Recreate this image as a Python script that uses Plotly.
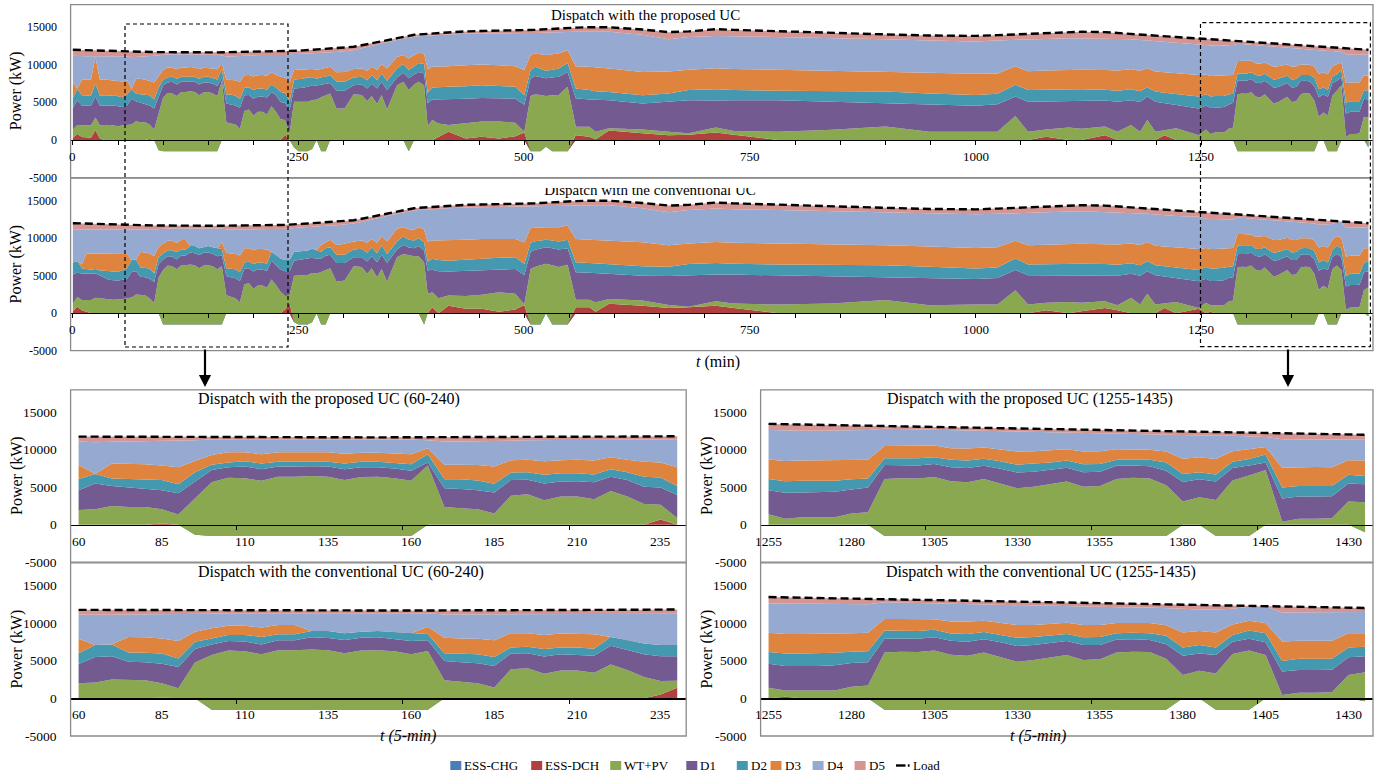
import plotly.graph_objects as go

# ---------------- time grid (minutes) ----------------
T = (list(range(0, 245, 5)) +
     [245, 250, 255, 260, 265, 270, 275, 280, 285,
      292, 301, 311, 320, 326, 331, 337, 342, 348,
      359, 366, 372, 378, 383, 389, 393, 398,
      405, 416, 435, 453, 472, 490, 500,
      507, 512, 518, 524, 531, 538, 548,
      557, 572, 579, 594, 631, 660, 682, 712, 732, 781, 841, 900, 949, 1000, 1024, 1044,
      1058, 1078, 1103, 1117, 1143, 1157, 1172, 1182, 1190, 1199, 1209, 1222, 1247] +
     list(range(1255, 1440, 5)))

# ---------------- load (kW) ----------------
load = [12000, 11980, 11950, 11930, 11900, 11880, 11850, 11830, 11810, 11800, 11780, 11770, 11750,
        11740, 11730, 11720, 11710, 11700, 11700, 11690, 11680, 11670, 11670, 11660, 11660, 11650, 11650, 11650, 11650,
        11650, 11650, 11660, 11660, 11670, 11670, 11680, 11680, 11690, 11700, 11700, 11710, 11720, 11730, 11740, 11750,
        11760, 11770, 11780, 11800,
        11850, 11880, 11920, 11960, 12000, 12050, 12090, 12120, 12150,
        12200, 12300, 12400, 12600, 12750, 12850, 13000, 13100, 13250,
        13600, 13750, 13900, 14000, 14050, 14100, 14150, 14200,
        14250, 14350, 14450, 14500, 14550, 14550, 14550,
        14600, 14650, 14700, 14750, 14800, 14850, 14900,
        14950, 15000, 15000, 15000, 14700, 14350, 14450, 14750, 14650, 14450, 14250, 14050, 13900, 13850, 13950, 14050,
        14150, 14300, 14400, 14400, 14350, 14250, 14150, 14050, 14000, 13900, 13800, 13700, 13500,
        13450, 13400, 13370, 13330, 13290, 13250, 13200, 13150, 13120, 13080, 13050, 13000, 12960, 12920, 12880, 12840,
        12800, 12760, 12720, 12680, 12640, 12600, 12560, 12520, 12480, 12440, 12400, 12360, 12320, 12280, 12240, 12200,
        12160, 12120, 12080, 12040, 12000]

# ================= Proposed UC =================
prop_chg = [0, 0, 0, 0, 0, 0, 0, 0, 0, 0, 0, 0, 0, 0, 0, 0, 0, 0, 0, -1350,
            -1500, -1500, -1500, -1500, -1500, -1500, -1500, -1500, -1500, -1500, -1500, -1500, -1500,
            0, 0, 0, 0, 0, 0, 0, 0, 0, 0, 0, 0, 0, 0, 0, 0,
            -1000, -1500, -1500, -1500, -1200, 0, -1500, -1500, 0,
            0, 0, 0, 0, 0, 0, 0, 0, 0,
            0, 0, -1500, 0, 0, 0, 0, 0,
            0, 0, 0, 0, 0, 0, 0,
            -1500, -1500, -1500, -900, -1500, -1500, -1500,
            0, 0, 0, 0, 0, 0, 0, 0, 0, 0, 0, 0, 0, 0, 0, 0, 0, 0, 0, 0, 0, 0, 0, 0, 0, 0, 0, 0, 0,
            0, 0, 0, 0, 0, 0, 0,
            -1500, -1500, -1500, -1500, -1500, -1500, -1500, -1500, -1500, -1500, -1500, -1500, -1500, -1500, -1500, -1500, -1500, -1500,
            0, 0, -1500, -1500, -1500, 0, 0, 0, 0, 0, 0, -1000]
prop_dch = [300, 800, 400, 300, 300, 1300, 200, 0, 0, 0, 0, 0, 0, 0, 0, 0, 0, 150,
            0, 0, 0, 0, 0, 0, 0, 0, 0, 0, 0, 0, 0, 0, 0, 0, 0, 0, 100,
            0, 0, 0, 0, 0, 0, 0, 0, 0, 0, 700, 0,
            0, 0, 0, 0, 0, 0, 0, 0, 0,
            0, 0, 0, 0, 0, 0, 0, 0, 0,
            0, 0, 0, 0, 0, 0, 0, 0,
            400, 1100, 200, 450, 200, 500, 1000,
            0, 0, 0, 0, 0, 0, 0,
            650, 450, 100, 1250, 900, 650, 700, 1000, 700, 0, 0, 0, 0, 0, 0, 0, 0, 450, 0, 0, 650, 0, 0, 0, 0, 0, 650, 0, 0,
            0, 0, 0, 0, 0, 0, 0, 0, 0, 0, 0, 0, 0, 0, 0, 0, 0, 0, 0, 0, 0, 0, 0, 0, 0, 0, 0, 0, 0, 0, 0, 0, 0, 0, 0, 0, 0]
prop_wtpv = [1100, 1200, 1550, 1650, 1650, 1700, 1750, 2000, 1900, 1950, 1800, 1950, 1950,
             2050, 2500, 2350, 2350, 1900, 1350, 4850, 7150, 7750, 7700, 7350, 7900, 7900, 8000, 7900, 7450, 7850, 7900,
             7700, 7350, 7900, 2350, 2200, 1950, 1500, 3850, 4050, 3250, 3750, 3750, 3400, 4500, 3750, 2750, 1950, 900,
             6100, 6600, 6600, 6600, 6500, 5400, 7200, 7400, 6200,
             4200, 4200, 6100, 6000, 5200, 5850, 4800, 6000, 4050,
             7300, 7750, 8150, 7400, 7750, 7300, 1850, 2650,
             1800, 900, 2000, 2000, 2250, 1800, 100,
             7350, 7600, 7500, 6750, 7450, 7500, 8600,
             1100, 1300, 1000, 300, 500, 450, 200, 650, 500, 1100, 1350, 1800, 1100, 1100, 1100, 3200, 1100, 950, 1650,
             1500, 1150, 1100, 2000, 1100, 2650, 1100, 650, 1550, 650,
             1400, 800, 1000, 1050, 1000, 1500, 1650,
             7600, 7700, 7650, 7850, 7300, 7150, 7600, 7000, 6350, 6550, 6900, 7250, 6550, 6650, 7600, 7750, 7650, 6750,
             3100, 3650, 4800, 7400, 8050, 7300, 400, 800, 800, 850, 3100, 4000]
prop_d1 = [2900, 3300, 2600, 2600, 2600, 2800, 2600, 2600, 2650, 2650, 2650, 2450, 2650,
           3450, 2650, 2600, 2450, 2550, 2850, 2200, 1650, 1400, 1550, 1550, 1350, 1350, 1300, 1350, 1450, 1300, 1250,
           1300, 1350, 400, 2500, 2550, 2550, 2800, 2100, 1950, 2250, 2000, 2050, 2250, 1900, 2200, 2300, 2300, 3050,
           1750, 1750, 1850, 2000, 2000, 1850, 1700, 1550, 1400,
           2350, 2350, 1200, 1400, 1650, 1650, 2050, 1750, 2600,
           1000, 1200, 1550, 1300, 1300, 1550, 3050, 2750,
           3200, 3450, 3300, 3150, 3100, 3200, 3600,
           2350, 2400, 2350, 2350, 2350, 2400, 1950,
           3800, 3650, 4250, 3750, 3450, 4000, 4400, 3600, 4100, 4200, 3750, 3100, 3600, 3450, 3650, 2600, 4000, 3750,
           3550, 3700, 3450, 4000, 3300, 3950, 3150, 4000, 3600, 3150, 3550,
           3200, 3450, 3300, 3300, 3400, 3200, 3300,
           1850, 1750, 1750, 1750, 1850, 1900, 1750, 1950, 2100, 2000, 1950, 1850, 1950, 1900, 1750, 1650, 1650, 1950,
           2600, 2400, 2450, 1650, 1350, 1000, 3100, 2950, 2950, 2950, 2400, 2400]
prop_d2 = [1300, 1500, 1400, 1350, 1350, 1700, 1350, 1350, 1350, 1350, 1350, 1300, 1500,
           1250, 1000, 1100, 1250, 1350, 1200, 1300, 700, 650, 700, 750, 650, 650, 700, 650, 750, 750, 750,
           750, 850, 1100, 1200, 1300, 1300, 1150, 1000, 1000, 1150, 1100, 1050, 1050, 1000, 1050, 1350, 1350, 1200,
           1200, 1200, 1200, 1200, 1050, 900, 950, 950, 1050,
           1200, 1200, 1000, 1000, 1100, 1150, 1100, 1100, 1250,
           1200, 1150, 1100, 1100, 1200, 1250, 1400, 1600,
           1650, 1650, 1650, 1700, 1650, 1600, 1300,
           1100, 1250, 1150, 1000, 1050, 1100, 1200,
           1300, 1250, 1150, 1100, 1100, 1100, 1350, 1500, 1350, 1250, 1400, 1550, 1500, 1450, 1400, 1550, 1550, 1550,
           1500, 1550, 1450, 1450, 1450, 1450, 1200, 1350, 1400, 1400, 1600,
           1500, 1550, 1550, 1500, 1450, 1350, 1200,
           900, 900, 950, 900, 1000, 1000, 950, 1000, 1050, 1100, 950, 950, 1050, 1050, 800, 750, 850, 1100,
           1050, 950, 950, 850, 850, 1050, 1450, 1400, 1400, 1350, 1150, 1100]
prop_d3 = [2100, 50, 2050, 2100, 2100, 3500, 2100, 2100, 2050, 2000, 2050, 2100, 1850,
           50, 2000, 2100, 2000, 1950, 2250, 1500, 1300, 1350, 1200, 1250, 1250, 1250, 1200, 1250, 1300, 1200, 1200,
           1250, 1350, 800, 1950, 1950, 2050, 2300, 1650, 1650, 1800, 1750, 1800, 1850, 1600, 1650, 2000, 2000, 2500,
           1250, 1250, 1200, 1100, 1100, 1200, 1100, 1150, 1100,
           1250, 1300, 1150, 1100, 1250, 1100, 1350, 1250, 1600,
           1550, 1200, 1550, 1500, 1350, 1400, 3100, 2750,
           2700, 2700, 2800, 2750, 2750, 2700, 3300,
           2000, 1750, 1900, 2100, 2050, 2000, 1700,
           2950, 3100, 3150, 3100, 3100, 2900, 2700, 2800, 2800, 2800, 2750, 2650, 2750, 2800, 2700, 2450, 2500, 2550,
           2600, 2600, 2600, 2700, 2650, 2700, 2550, 2650, 2700, 2750, 2850,
           2600, 2700, 2700, 2700, 2700, 2550, 2500,
           1650, 1650, 1650, 1550, 1550, 1600, 1500, 1550, 1750, 1650, 1650, 1500, 1700, 1700, 1400, 1400, 1350, 1450,
           2050, 2000, 2050, 1400, 1300, 1000, 2650, 2550, 2550, 2500, 1950, 2050]
prop_d4 = [3500, 4300, 3150, 3150, 3150, 200, 3150, 3100, 3200, 3200, 3250, 3300, 3150,
           4200, 2900, 2950, 3050, 3200, 3500, 2750, 2050, 1750, 1750, 2000, 1750, 1750, 1700, 1750, 1950, 1800, 1800,
           1900, 1950, 1050, 3100, 3100, 3150, 3350, 2600, 2600, 2850, 2700, 2650, 2750, 2300, 2650, 2900, 3000, 3750,
           2100, 2100, 2100, 2100, 2100, 2250, 2170, 2100, 1930,
           2720, 2750, 2500, 2700, 3150, 2750, 3350, 2700, 3500,
           2250, 2200, 2800, 2450, 2200, 2350, 4500, 4200,
           4250, 4250, 4200, 4150, 4300, 4450, 4950,
           2950, 2750, 2880, 3000, 2950, 2880, 2450,
           4600, 4650, 4750, 4900, 4950, 4300, 4350, 4300, 4350, 4350, 4300, 4300, 4300, 4300, 4400, 3500, 4200, 4200,
           4250, 4200, 4200, 4200, 4000, 4100, 3700, 4050, 4050, 4100, 4100,
           3950, 4050, 4000, 4000, 4000, 4000, 4000,
           2300, 2250, 2200, 2100, 2400, 2400, 2200, 2450, 2650, 2550, 2350, 2200, 2450, 2350, 2050, 2000, 2000, 2200,
           3100, 2900, 3100, 2050, 1750, 1350, 3800, 3650, 3650, 3700, 2750, 2850]
prop_d5 = [800, 830, 800, 780, 750, 680, 700, 680, 660, 650, 680, 670, 650,
           740, 680, 620, 610, 600, 550, 440, 330, 270, 270, 260, 260, 250, 250, 250, 250, 250, 250,
           260, 310, 420, 570, 580, 580, 590, 500, 450, 410, 420, 430, 440, 450, 460, 470, 480, 400,
           450, 480, 470, 460, 450, 450, 470, 470, 470,
           480, 500, 450, 400, 400, 350, 350, 300, 250,
           300, 250, 250, 250, 250, 250, 250, 250,
           250, 300, 300, 300, 300, 300, 300,
           350, 400, 420, 450, 450, 470, 500,
           550, 600, 600, 600, 700, 950, 750, 900, 850, 750, 700, 650, 650, 750, 700, 750, 800, 850,
           850, 850, 850, 800, 750, 750, 750, 750, 750, 750, 750,
           800, 850, 820, 780, 740, 650, 550,
           350, 370, 380, 400, 400, 410, 420, 430, 440, 450, 460, 470, 480, 490, 500, 510, 520, 530,
           540, 500, 510, 470, 480, 540, 800, 810, 770, 730, 690, 600]

# ================= Conventional UC =================
conv_chg = [0, 0, 0, 0, 0, 0, 0, 0, 0, 0, 0, 0, 0, 0, 0, 0, 0, 0, 0, 0,
            -1500, -1500, -1500, -1500, -1500, -1500, -1500, -1500, -1500, -1500, -1500, -1500, -1500, -1500,
            0, 0, 0, 0, 0, 0, 0, 0, 0, 0, 0, 0, 0, 0, 0,
            -1200, -1500, -1500, -1500, -1200, 0, -1500, -1500, 0,
            0, 0, 0, 0, 0, 0, 0, 0, 0,
            0, 0, 0, 0, 0, -1500, 0, 0,
            0, 0, 0, 0, 0, 0, 0,
            -1500, -1500, -1500, 0, -1500, -1500, -1500,
            0, 0, 0, 0, 0, 0, 0, 0, 0, 0, 0, 0, 0, 0, 0, 0, 0, 0, 0, 0, 0, 0, 0, 0, 0, 0, 0, 0, 0,
            0, 0, 0, 0, 0, 0, 0,
            -1500, -1500, -1500, -1500, -1500, -1500, -1500, -1500, -1500, -1500, -1500, -1500, -1500, -1500, -1500, -1500, -1500, -1500,
            0, 0, -1500, -1500, -1500, 0, 0, 0, 0, 0, 0, -400]
conv_dch = [300, 850, 400, 200, 0, 0, 0, 0, 0, 0, 0, 0, 0, 0, 0, 0, 0, 100,
            0, 0, 0, 0, 0, 0, 0, 0, 0, 0, 0, 0, 0, 0, 0, 0, 0, 0, 0, 0, 0, 0, 0, 0, 0, 0, 0, 0, 0, 500, 1400,
            0, 0, 0, 0, 0, 0, 0, 0, 0,
            0, 0, 0, 0, 0, 0, 0, 0, 0,
            0, 0, 0, 0, 0, 0, 0, 800,
            0, 1000, 600, 600, 200, 500, 1100,
            0, 0, 0, 0, 0, 0, 0,
            800, 800, 200, 1250, 1000, 700, 800, 1000, 700, 0, 0, 0, 0, 0, 0, 0, 0, 400, 0, 250, 700, 400, 0, 0, 0, 0,
            700, 0, 600,
            0, 200, 0, 0, 0, 0, 0, 0, 0, 0, 0, 0, 0, 0, 0, 0, 0, 0, 0, 0, 0, 0, 0, 0, 0, 0, 0, 0, 0, 0, 0, 0, 0, 0, 0, 0, 0]
conv_wtpv = [1000, 1300, 1350, 1550, 1750, 2050, 1950, 1850, 1850, 1800, 1800, 1900, 2000,
             2100, 2500, 2400, 2400, 1900, 1350, 4750, 7250, 7850, 7750, 7350, 7900, 7900, 8000, 7900, 7500, 7850, 7900,
             7750, 7350, 7800, 2400, 2200, 2000, 1450, 3850, 4000, 3250, 3700, 3700, 3400, 4500, 3750, 2850, 1800, 950,
             6200, 6550, 6550, 6600, 6550, 5300, 7000, 7300, 6000,
             4200, 4350, 6250, 6150, 5250, 6000, 4800, 5900, 4200,
             7450, 7900, 7700, 7600, 7600, 8300, 2600, 2000,
             2000, 1350, 1700, 1850, 2600, 2100, 100,
             7400, 7700, 7900, 6600, 7900, 7650, 7950,
             1000, 1000, 1250, 650, 700, 400, 50, 600, 600, 1150, 1300, 1750, 1050, 1150, 1150, 3050, 1150, 1000, 1500,
             1150, 900, 650, 2050, 1150, 2600, 1150, 600, 1500, 100,
             1400, 850, 1050, 1050, 1050, 1550, 1700,
             7600, 7700, 7650, 7850, 7300, 7150, 7600, 7000, 6350, 6600, 6950, 7250, 6600, 6700, 7600, 7700, 7650, 6750,
             3100, 3650, 4800, 7400, 7850, 5750, 450, 750, 750, 800, 3100, 3850]
conv_d1 = [3850, 3250, 3550, 3500, 3500, 3250, 3100, 2850, 2600, 2600, 2550, 2550, 2550,
           3400, 3100, 2450, 2400, 2600, 2800, 1800, 1400, 1250, 1300, 1300, 1300, 1300, 1600, 1600, 1750, 1700, 1700,
           1650, 1750, 1400, 2550, 2600, 2650, 2850, 2100, 2000, 2300, 2150, 2100, 2250, 2500, 2650, 3000, 3300, 3250,
           2000, 2050, 2150, 2250, 2050, 1950, 1800, 1850, 1800,
           2500, 2350, 1200, 1300, 1650, 1600, 2000, 1900, 2500,
           1050, 1200, 1050, 1050, 1350, 1550, 3100, 3000,
           3600, 3200, 3350, 3350, 3050, 3300, 3900,
           2300, 2250, 2250, 2200, 2250, 2350, 2200,
           3650, 3600, 3900, 3350, 3300, 3850, 4200, 3550, 3850, 3900, 3650, 3100, 3650, 3400, 3550, 2700, 3900, 3650,
           3600, 3700, 3500, 3950, 3200, 3850, 3000, 3900, 3600, 3200, 3550,
           3200, 3250, 3250, 3250, 3350, 3150, 3100,
           1800, 1750, 1750, 1750, 1850, 1850, 1750, 1950, 2100, 2000, 1900, 1850, 2000, 1900, 1700, 1650, 1600, 1950,
           2550, 2300, 2450, 1600, 1550, 1700, 3100, 3000, 3000, 3000, 2350, 2150]
conv_d2 = [1600, 1550, 700, 600, 550, 600, 650, 950, 1200, 1150, 1150, 1250, 1450,
           1600, 1550, 1250, 1250, 1350, 1150, 950, 800, 800, 850, 1000, 800, 800, 850, 950, 900, 800, 850,
           900, 1050, 850, 1050, 1150, 1200, 1200, 800, 850, 1000, 900, 950, 950, 1150, 1350, 1450, 1500, 1500,
           1150, 1100, 1050, 1000, 1200, 1150, 900, 1000, 1000,
           1100, 1100, 1050, 1150, 1150, 1200, 1200, 1300, 1200,
           1050, 1150, 1050, 1050, 1050, 1100, 1200, 1450,
           1500, 1450, 1500, 1550, 1550, 1550, 1500,
           1200, 1150, 1050, 1000, 1050, 1050, 1150,
           1350, 1300, 1300, 1350, 1250, 1250, 1500, 1550, 1450, 1450, 1500, 1550, 1500, 1400, 1400, 1550, 1450, 1500,
           1500, 1500, 1450, 1450, 1400, 1400, 1350, 1350, 1350, 1400, 1500,
           1550, 1650, 1650, 1650, 1650, 1500, 1450,
           1100, 1050, 1050, 1000, 950, 1050, 950, 950, 1100, 1050, 1000, 950, 1000, 1050, 850, 850, 900, 1100,
           1100, 1150, 1000, 900, 1100, 1200, 1400, 1500, 1500, 1450, 1300, 1250]
conv_d3 = [0, 0, 500, 2100, 2150, 2050, 2250, 2250, 2250, 2300, 2350, 2150, 1900,
           0, 50, 2050, 2050, 2000, 2300, 1350, 1350, 1250, 1250, 1250, 1250, 1250, 0, 0, 0, 0, 0,
           0, 0, 950, 2050, 2000, 2050, 2200, 1900, 1800, 1850, 1850, 1850, 1900, 0, 0, 0, 0, 0,
           0, 0, 0, 0, 0, 100, 900, 850, 1000,
           1300, 1450, 1050, 1100, 1350, 1100, 1400, 1150, 1650,
           1700, 1200, 1400, 1450, 1450, 1700, 2650, 2450,
           2600, 2700, 2650, 2550, 2500, 2450, 2850,
           1950, 1800, 1750, 1650, 1750, 1900, 1900,
           3100, 3100, 3100, 3100, 3200, 2850, 2750, 2800, 2800, 2800, 2750, 2650, 2700, 2750, 2700, 2350, 2550, 2600,
           2650, 2650, 2650, 2700, 2650, 2700, 2550, 2600, 2650, 2700, 2800,
           2550, 2600, 2600, 2600, 2500, 2450, 2450,
           1550, 1550, 1550, 1400, 1600, 1650, 1500, 1650, 1700, 1600, 1550, 1500, 1650, 1600, 1350, 1300, 1350, 1400,
           2000, 1850, 2000, 1400, 1300, 1350, 2600, 2400, 2400, 2400, 1900, 1800]
conv_d4 = [4450, 4200, 4650, 3200, 3200, 3200, 3200, 3250, 3250, 3300, 3250, 3250, 3250,
           4000, 3900, 3000, 3050, 3200, 3550, 2350, 1950, 1650, 1650, 1900, 1550, 1550, 2350, 2350, 2650, 2450, 2350,
           2500, 2650, 1800, 3100, 3200, 3250, 3450, 2550, 2550, 2800, 2600, 2600, 2700, 3050, 3450, 3900, 4100, 4150,
           3200, 3200, 3200, 3150, 2950, 3100, 2520, 2150, 1880,
           2620, 2550, 2400, 2450, 2900, 2550, 3200, 2500, 3400,
           2000, 2000, 2400, 2550, 2300, 2650, 4300, 4200,
           4250, 4300, 4300, 4250, 4300, 4300, 4750,
           2900, 2850, 2830, 2850, 2900, 2930, 2700,
           4500, 4600, 4650, 4700, 4550, 4400, 4450, 4450, 4450, 4450, 4400, 4400, 4400, 4500, 4450, 3650, 4300, 4300,
           4300, 4350, 4300, 4300, 4100, 4200, 3750, 4150, 4150, 4150, 4300,
           3900, 4000, 4000, 4000, 4000, 3850, 3800,
           2200, 2150, 2150, 2100, 2350, 2300, 2150, 2350, 2600, 2550, 2350, 2150, 2400, 2350, 2100, 2050, 2050, 2250,
           3050, 2850, 3050, 2100, 1850, 2200, 3850, 3750, 3750, 3750, 2800, 2800]
conv_d5 = [800, 830, 800, 780, 750, 730, 700, 680, 660, 650, 680, 670, 600,
           640, 630, 570, 560, 550, 550, 490, 430, 370, 370, 360, 360, 350, 350, 350, 350, 350, 350,
           360, 360, 370, 520, 530, 530, 540, 500, 500, 510, 520, 530, 540, 550, 560, 570, 580, 550,
           500, 480, 470, 460, 450, 450, 470, 470, 470,
           480, 500, 450, 450, 450, 400, 400, 350, 300,
           350, 300, 300, 300, 300, 300, 300, 300,
           300, 350, 350, 350, 350, 350, 350,
           350, 400, 420, 450, 450, 470, 500,
           550, 600, 600, 600, 700, 900, 700, 800, 800, 700, 650, 600, 600, 650, 700, 750, 800, 850,
           850, 800, 850, 800, 750, 750, 750, 750, 750, 750, 650,
           850, 850, 820, 780, 740, 750, 700,
           400, 420, 430, 450, 450, 460, 470, 480, 490, 500, 510, 520, 530, 540, 500, 510, 470, 530,
           640, 600, 560, 420, 130, 40, 800, 760, 720, 680, 590, 550]

NAMES = ["ESS-CHG", "ESS-DCH", "WT+PV", "D1", "D2", "D3", "D4", "D5"]
COLORS = ["#4a7ebb", "#b0413e", "#8aa850", "#735a90", "#4498b0", "#de843e", "#95a9d1", "#d59593"]
PROP = [prop_chg, prop_dch, prop_wtpv, prop_d1, prop_d2, prop_d3, prop_d4, prop_d5]
CONV = [conv_chg, conv_dch, conv_wtpv, conv_d1, conv_d2, conv_d3, conv_d4, conv_d5]
Y_TICKS = [-5000, 0, 5000, 10000, 15000]

_bad = [(n, len(a)) for n, a in zip(
    ["load"] + ["p_" + x for x in NAMES] + ["c_" + x for x in NAMES],
    [load] + PROP + CONV) if len(a) != len(T)]
assert not _bad, "length mismatch (T=%d): %s" % (len(T), _bad)

# ---------------- layout geometry (pixels) ----------------
W, H = 1391, 776
FONT = "Liberation Serif"


def fx(x):
    return x / W


def fy(y):
    return 1 - y / H


YR = [-5000, 18000]

# (axis suffix, data, window, x px span, y px span (top, bottom), x range, x ticks, minor ticks, title, y-title x,
#  tick font sizes)
panels = [
    dict(ax="", data=PROP, win=(0, 1440), xp=(70.6, 1373), yp=(4.7, 177.6), xr=[-2.5, 1440],
         tv=[0, 250, 500, 750, 1000, 1250], mv=list(range(0, 1441, 50)),
         title=("Dispatch with the proposed UC", 645, 15, 15), ylab=16, fxs=13, fys=12),
    dict(ax="2", data=CONV, win=(0, 1440), xp=(70.6, 1373), yp=(178.2, 350.7), xr=[-2.5, 1440],
         tv=[0, 250, 500, 750, 1000, 1250], mv=list(range(0, 1441, 50)),
         title=None, ylab=16, fxs=13, fys=12),
    dict(ax="3", data=PROP, win=(60, 240), xp=(70.6, 686.2), yp=(389.8, 562.1), xr=[57.6, 242.7],
         tv=[60, 85, 110, 135, 160, 185, 210, 235], mv=[57.5, 107.5, 157.5, 207.5],
         title=("Dispatch with the proposed UC (60-240)", 329, 399, 16), ylab=17, fxs=13.5, fys=13.5),
    dict(ax="4", data=CONV, win=(60, 240), xp=(70.6, 686.2), yp=(562.8, 736.0), xr=[57.6, 242.7],
         tv=[60, 85, 110, 135, 160, 185, 210, 235], mv=[57.5, 107.5, 157.5, 207.5],
         title=("Dispatch with the conventional UC (60-240)", 341, 572, 16), ylab=17, fxs=13.5, fys=13.5),
    dict(ax="5", data=PROP, win=(1255, 1435), xp=(760.6, 1373), yp=(389.8, 562.1), xr=[1252.6, 1437.4],
         tv=[1255, 1280, 1305, 1330, 1355, 1380, 1405, 1430], mv=[1252.5, 1302.5, 1352.5, 1402.5],
         title=("Dispatch with the proposed UC (1255-1435)", 1030, 399, 16), ylab=707, fxs=13.5, fys=13.5),
    dict(ax="6", data=CONV, win=(1255, 1435), xp=(760.6, 1373), yp=(562.8, 736.0), xr=[1252.6, 1437.4],
         tv=[1255, 1280, 1305, 1330, 1355, 1380, 1405, 1430], mv=[1252.5, 1302.5, 1352.5, 1402.5],
         title=("Dispatch with the conventional UC (1255-1435)", 1041, 572, 16), ylab=707, fxs=13.5, fys=13.5),
]

fig = go.Figure()
layout = dict(width=W, height=H, margin=dict(l=0, r=0, t=0, b=0), autosize=False, template="none",
              paper_bgcolor="white", plot_bgcolor="rgba(0,0,0,0)", showlegend=False,
              font=dict(family=FONT, size=12, color="black"))
shapes, annotations = [], []

for i, p in enumerate(panels):
    lo, hi = p["win"]
    idx = [k for k, t in enumerate(T) if lo <= t <= hi]
    xs = [T[k] for k in idx]
    xa, ya = "x" + p["ax"], "y" + p["ax"]
    for s, (name, col) in enumerate(zip(NAMES, COLORS)):
        fig.add_trace(go.Scatter(
            x=xs, y=[p["data"][s][k] for k in idx], name=name, showlegend=False,
            stackgroup="g" + str(i), mode="lines",
            line=dict(width=0, color=col), fillcolor=col, hoverinfo="skip",
            xaxis=xa, yaxis=ya))
    fig.add_trace(go.Scatter(
        x=xs, y=[load[k] for k in idx], name="Load", showlegend=False, mode="lines",
        line=dict(color="black", width=2.4, dash="8px,4px"), hoverinfo="skip",
        xaxis=xa, yaxis=ya))

    xd = [fx(p["xp"][0]), fx(p["xp"][1])]
    yd = [fy(p["yp"][1]), fy(p["yp"][0])]
    zero_px = p["yp"][0] + (p["yp"][1] - p["yp"][0]) * (YR[1] - 0) / (YR[1] - YR[0])
    layout["xaxis" + p["ax"]] = dict(
        domain=xd, range=p["xr"], anchor="free", position=fy(zero_px),
        showline=True, linecolor="black", linewidth=1.2, showgrid=False, zeroline=False,
        tickmode="array", tickvals=p["tv"], showticklabels=False, ticks="",
        minor=dict(tickmode="array", tickvals=p["mv"], ticks="outside", ticklen=4,
                   tickcolor="black", tickwidth=1, showgrid=False))
    layout["yaxis" + p["ax"]] = dict(
        domain=yd, range=YR, anchor=xa, showline=True, linecolor="black",
        linewidth=1, showgrid=False, zeroline=False, tickmode="array",
        tickvals=Y_TICKS, showticklabels=False, ticks="")

    # tick labels (serif, black, Excel-like placement)
    for v in p["tv"]:
        annotations.append(dict(text=str(v), x=v, xref=xa, y=fy(zero_px + 16.5), yref="paper",
                                showarrow=False, xanchor="center", yanchor="middle",
                                font=dict(family=FONT, size=p["fxs"], color="black")))
    for v in Y_TICKS:
        annotations.append(dict(text=str(v), x=fx(p["xp"][0] - 11.5), xref="paper", y=v, yref=ya,
                                showarrow=False, xanchor="right", yanchor="middle",
                                font=dict(family=FONT, size=p["fys"], color="black")))

    shapes.append(dict(type="rect", xref="paper", yref="paper",
                       x0=xd[0], x1=xd[1], y0=yd[0], y1=yd[1],
                       line=dict(color="#8a8a8a", width=1.3), layer="above"))
    if p["title"]:
        t, tx, ty, ts = p["title"]
        annotations.append(dict(text=t, x=fx(tx), y=fy(ty), xref="paper", yref="paper",
                                showarrow=False, xanchor="center", yanchor="middle",
                                font=dict(family=FONT, size=ts, color="black")))
    annotations.append(dict(text="Power (kW)", x=fx(p["ylab"]), y=(yd[0] + yd[1]) / 2,
                            xref="paper", yref="paper", textangle=-90, showarrow=False,
                            xanchor="center", yanchor="middle",
                            font=dict(family=FONT, size=16, color="black")))

# half-hidden title of the conventional overview (clipped by an invisible helper subplot)
CLIP_TOP = 188.0
layout["xaxis7"] = dict(domain=[fx(70.6), fx(1373)], range=[0, 1], anchor="y7", visible=False,
                        fixedrange=True)
layout["yaxis7"] = dict(domain=[fy(350.7), fy(CLIP_TOP)], range=[0, 1], anchor="x7", visible=False,
                        fixedrange=True)
fig.add_trace(go.Scatter(
    x=[(650 - 70.6) / (1373 - 70.6)], y=[(350.7 - 191.0) / (350.7 - CLIP_TOP)],
    mode="text", text=["Dispatch with the conventional UC"], textposition="middle center",
    textfont=dict(family=FONT, size=15, color="black"), cliponaxis=True,
    showlegend=False, hoverinfo="skip", xaxis="x7", yaxis="y7"))

# x-axis titles
annotations.append(dict(text="<i>t</i> (min)", x=fx(718), y=fy(362), xref="paper", yref="paper",
                        showarrow=False, font=dict(family=FONT, size=16, color="black")))
annotations.append(dict(text="<i>t (5-min)</i>", x=fx(378), y=fy(747), xref="paper", yref="paper",
                        showarrow=False, font=dict(family=FONT, size=16, color="black")))
annotations.append(dict(text="<i>t (5-min)</i>", x=fx(1068), y=fy(747), xref="paper", yref="paper",
                        showarrow=False, font=dict(family=FONT, size=16, color="black")))

# dashed zoom boxes
for (x0, y0p, x1, y1p) in [(125, 24, 288, 347), (1200.5, 22.7, 1370.4, 346.7)]:
    shapes.append(dict(type="rect", xref="paper", yref="paper",
                       x0=fx(x0), x1=fx(x1), y0=fy(y1p), y1=fy(y0p),
                       line=dict(color="black", width=1.2, dash="4px,3px"), layer="above"))
# arrows
for ax_px in [205, 1288]:
    annotations.append(dict(text="", x=fx(ax_px), y=fy(387), xref="paper", yref="paper",
                            ax=0, ay=-39, showarrow=True, arrowhead=2, arrowsize=1.1,
                            arrowwidth=2.2, arrowcolor="black"))

# legend (Excel style: small squares)
LEG_Y = 765.5
leg_items = [("ESS-CHG", 450.3), ("ESS-DCH", 531.2), ("WT+PV", 610.2), ("D1", 686.3),
             ("D2", 736.8), ("D3", 770.5), ("D4", 812.6), ("D5", 854.6)]
for (name, lx), col in zip(leg_items, COLORS):
    shapes.append(dict(type="rect", xref="paper", yref="paper",
                       x0=fx(lx), x1=fx(lx + 11), y0=fy(LEG_Y + 4.5), y1=fy(LEG_Y - 4.5),
                       fillcolor=col, line=dict(width=0)))
    annotations.append(dict(text=name, x=fx(lx + 12), y=fy(LEG_Y), xref="paper", yref="paper",
                            showarrow=False, xanchor="left", yanchor="middle",
                            font=dict(family=FONT, size=13, color="black")))
shapes.append(dict(type="line", xref="paper", yref="paper", x0=fx(896), x1=fx(905.5),
                   y0=fy(LEG_Y), y1=fy(LEG_Y), line=dict(color="black", width=2.4)))
shapes.append(dict(type="line", xref="paper", yref="paper", x0=fx(907.8), x1=fx(909.6),
                   y0=fy(LEG_Y), y1=fy(LEG_Y), line=dict(color="black", width=2.4)))
annotations.append(dict(text="Load", x=fx(910.5), y=fy(LEG_Y), xref="paper", yref="paper",
                        showarrow=False, xanchor="left", yanchor="middle",
                        font=dict(family=FONT, size=13, color="black")))

layout["shapes"] = shapes
layout["annotations"] = annotations
fig.update_layout(**layout)
fig.write_html("out.html", config={"displayModeBar": False, "staticPlot": True},
               post_script="document.body.style.margin='0px';document.body.style.padding='0px';")
